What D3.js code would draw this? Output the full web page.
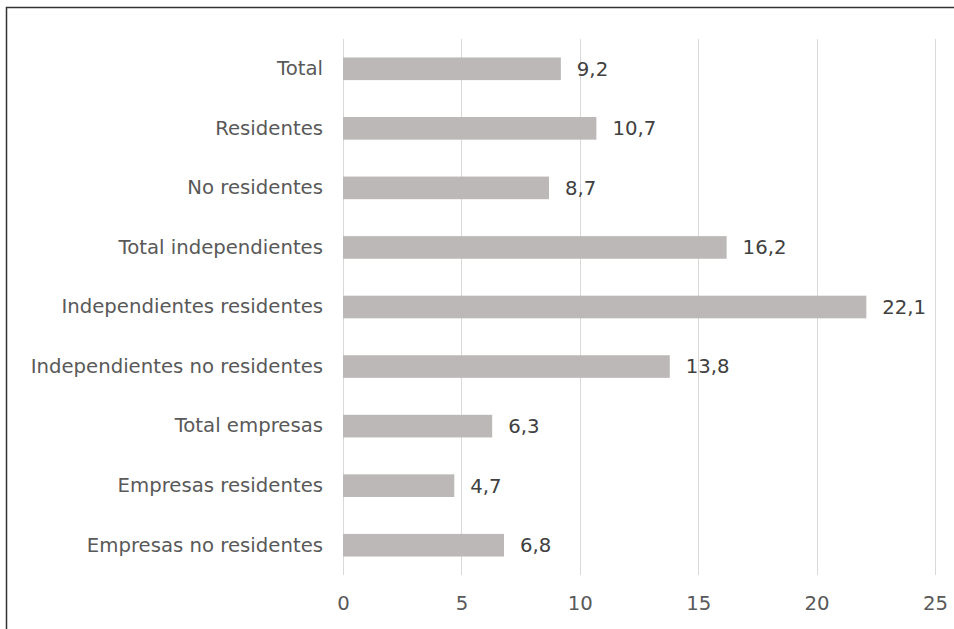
<!DOCTYPE html>
<html>
<head>
<meta charset="utf-8">
<script src="https://cdn.jsdelivr.net/npm/d3@7"></script>
<style>
  html, body { margin: 0; padding: 0; background: #fff; }
  svg { display: block; }
</style>
</head>
<body>
<div id="chart"></div>
<script>
  /* ── DATA ── */
  const categories = [
    'Total', 'Residentes', 'No residentes', 'Total independientes',
    'Independientes residentes', 'Independientes no residentes',
    'Total empresas', 'Empresas residentes', 'Empresas no residentes',
  ];
  const values = [9.2, 10.7, 8.7, 16.2, 22.1, 13.8, 6.3, 4.7, 6.8];
  const xTicks = [0, 5, 10, 15, 20, 25];

  /* ── LAYOUT ── */
  const W = 954, H = 629;
  const FONT = 'DejaVu Sans';
  const FS = 19.7;
  const PLOT = { left: 343, right: 935, top: 39, bottom: 575 };

  const svg = d3.select('#chart').append('svg').attr('width', W).attr('height', H);

  /* frame (top + left only) */
  svg.append('path')
    .attr('d', `M6.5,${H} L6.5,7.5 L${W},7.5`)
    .attr('fill', 'none').attr('stroke', '#333').attr('stroke-width', 1.5);

  const x = d3.scaleLinear().domain([0, 25]).range([PLOT.left, PLOT.right]);
  const y = d3.scaleBand().domain(categories).range([PLOT.top, PLOT.bottom])
    .paddingInner(0.62).paddingOuter(0.31);

  /* gridlines */
  svg.append('g').selectAll('line').data(xTicks).join('line')
    .attr('x1', d => Math.round(x(d)) + 0.5).attr('x2', d => Math.round(x(d)) + 0.5)
    .attr('y1', PLOT.top).attr('y2', PLOT.bottom)
    .attr('stroke', '#d9d9d9').attr('stroke-width', 1);

  /* x axis labels */
  const xAxis = svg.append('g').attr('transform', `translate(0,${PLOT.bottom})`)
    .call(d3.axisBottom(x).tickValues(xTicks).tickSize(0).tickPadding(21.5).tickFormat(d3.format('d')));
  xAxis.select('.domain').remove();
  xAxis.selectAll('text').attr('font-family', FONT).attr('font-size', FS).attr('fill', '#595959');
  xAxis.attr('font-family', FONT).attr('font-size', FS);

  /* y axis labels */
  const yAxis = svg.append('g').attr('transform', `translate(${PLOT.left},0)`)
    .call(d3.axisLeft(y).tickSize(0).tickPadding(20));
  yAxis.select('.domain').remove();
  yAxis.attr('font-family', FONT).attr('font-size', FS);
  yAxis.selectAll('text').attr('fill', '#595959');

  /* bars */
  svg.append('g').selectAll('rect').data(values).join('rect')
    .attr('x', x(0)).attr('y', (d, i) => y(categories[i]))
    .attr('width', d => x(d) - x(0)).attr('height', y.bandwidth())
    .attr('fill', '#bcb8b7');

  /* value labels */
  const fmt = d => d3.format('.1f')(d).replace('.', ',');
  svg.append('g').attr('font-family', FONT).attr('font-size', FS)
    .selectAll('text').data(values).join('text')
    .attr('x', d => x(d) + 16).attr('y', (d, i) => y(categories[i]) + y.bandwidth() / 2)
    .attr('dy', '0.35em')
    .attr('fill', '#404040')
    .text(fmt);
</script>
</body>
</html>
